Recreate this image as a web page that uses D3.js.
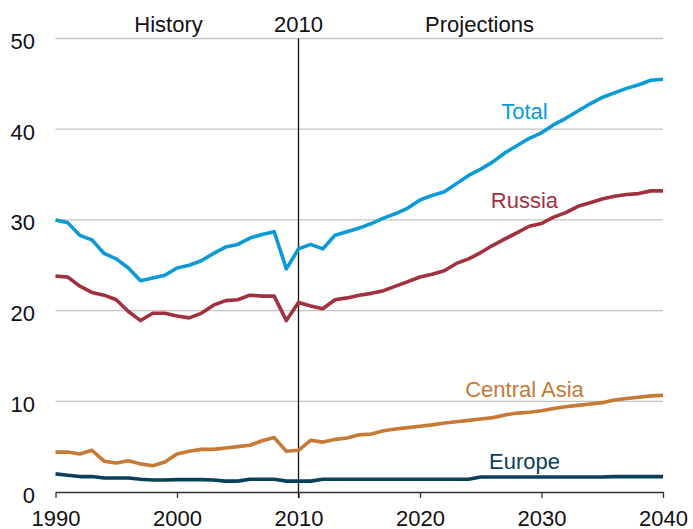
<!DOCTYPE html>
<html>
<head>
<meta charset="utf-8">
<script src="https://cdn.jsdelivr.net/npm/d3@7"></script>
<style>
  html, body { margin: 0; padding: 0; background: #fff; }
  svg { display: block; font-family: "Liberation Sans", Arial, sans-serif; }
</style>
</head>
<body>
<svg id="chart" width="693" height="529"></svg>
<script>
// Years covered by the chart (history 1990-2010, projections 2011-2040)
const years = [
  1990, 1991, 1992, 1993, 1994, 1995, 1996, 1997, 1998, 1999,
  2000, 2001, 2002, 2003, 2004, 2005, 2006, 2007, 2008, 2009,
  2010, 2011, 2012, 2013, 2014, 2015, 2016, 2017, 2018, 2019,
  2020, 2021, 2022, 2023, 2024, 2025, 2026, 2027, 2028, 2029,
  2030, 2031, 2032, 2033, 2034, 2035, 2036, 2037, 2038, 2039, 2040
];

const total = [
  30.0, 29.7, 28.3, 27.8, 26.3, 25.7, 24.7, 23.3, 23.6, 23.9,
  24.7, 25.0, 25.5, 26.3, 27.0, 27.3, 28.0, 28.4, 28.7, 24.6,
  26.8, 27.3, 26.8, 28.3, 28.7, 29.1, 29.6, 30.2, 30.7, 31.3,
  32.2, 32.7, 33.1, 34.0, 34.9, 35.6, 36.4, 37.4, 38.2, 39.0,
  39.6, 40.5, 41.2, 42.0, 42.8, 43.5, 44.0, 44.5, 44.9, 45.4, 45.5
];

const russia = [
  23.8, 23.7, 22.7, 22.0, 21.7, 21.2, 19.9, 18.9, 19.7, 19.7,
  19.4, 19.2, 19.7, 20.6, 21.1, 21.2, 21.7, 21.6, 21.6, 18.9,
  20.9, 20.5, 20.2, 21.2, 21.4, 21.7, 21.9, 22.2, 22.7, 23.2,
  23.7, 24.0, 24.4, 25.2, 25.7, 26.4, 27.2, 27.9, 28.6, 29.3,
  29.6, 30.3, 30.8, 31.5, 31.9, 32.3, 32.6, 32.8, 32.9, 33.2, 33.2
];

const centralAsia = [
  4.4, 4.4, 4.2, 4.6, 3.4, 3.2, 3.45, 3.1, 2.9, 3.3,
  4.2, 4.5, 4.7, 4.7, 4.85, 5.0, 5.15, 5.65, 6.0, 4.5,
  4.6, 5.7, 5.5, 5.8, 5.95, 6.3, 6.4, 6.75, 6.95, 7.1,
  7.25, 7.4, 7.6, 7.75, 7.9, 8.05, 8.2, 8.5, 8.7, 8.8,
  8.95, 9.2, 9.4, 9.55, 9.7, 9.85, 10.15, 10.3, 10.45, 10.6, 10.65
];

const europe = [
  2.0, 1.85, 1.7, 1.7, 1.55, 1.55, 1.55, 1.4, 1.33, 1.33,
  1.36, 1.36, 1.36, 1.33, 1.2, 1.2, 1.4, 1.4, 1.4, 1.2,
  1.2, 1.2, 1.4, 1.4, 1.4, 1.4, 1.4, 1.4, 1.4, 1.4,
  1.4, 1.4, 1.4, 1.4, 1.4, 1.65, 1.65, 1.65, 1.65, 1.65,
  1.65, 1.65, 1.65, 1.65, 1.65, 1.65, 1.7, 1.7, 1.7, 1.7, 1.7
];

const seriesNames = ["Total", "Russia", "Central Asia", "Europe"];
const seriesColors = ["#0a9ad6", "#a2313f", "#c67a35", "#0b405c"];
const seriesValues = [total, russia, centralAsia, europe];

const yTicks = [0, 10, 20, 30, 40, 50];
const xTicks = [1990, 2000, 2010, 2020, 2030, 2040];
const dividerYear = 2010;
const periodLabels = ["History", "2010", "Projections"];
const periodLabelYears = [1999.3, 2010, 2024.9];
// Inline series label anchors: shared year, one value per series
const labelYear = 2028.6;
const labelValues = [41.1, 31.3, 10.5, 2.5];

const svg = d3.select("#chart");
const x = d3.scaleLinear().domain([1990, 2040]).range([55.5, 663]);
const y = d3.scaleLinear().domain([0, 50]).range([492, 38.5]);

// Horizontal gridlines (not at zero, where the axis sits)
svg.append("g")
  .selectAll("line")
  .data(yTicks.filter(d => d > 0))
  .join("line")
  .attr("x1", x(1990))
  .attr("x2", x(2040))
  .attr("y1", d => y(d))
  .attr("y2", d => y(d))
  .attr("stroke", "#c3c3c3")
  .attr("stroke-width", 1.3);

// Y tick labels
svg.append("g")
  .selectAll("text")
  .data(yTicks)
  .join("text")
  .attr("x", 35)
  .attr("y", d => y(d) + 10.5)
  .attr("text-anchor", "end")
  .attr("font-size", 22)
  .attr("fill", "#111")
  .text(d => d);

// X axis
const xAxis = d3.axisBottom(x)
  .tickValues(xTicks)
  .tickFormat(d3.format("d"))
  .tickSize(6)
  .tickSizeOuter(0)
  .tickPadding(12.5);
const gx = svg.append("g")
  .attr("transform", `translate(0,${y(0)})`)
  .call(xAxis);
gx.select(".domain").attr("stroke", "#333").attr("stroke-width", 1.3);
gx.selectAll(".tick line").attr("stroke", "#333").attr("stroke-width", 1.3);
gx.selectAll(".tick text")
  .attr("font-size", 22)
  .attr("font-family", "'Liberation Sans', Arial, sans-serif")
  .attr("fill", "#111");

// Divider between history and projections
svg.append("line")
  .attr("x1", x(dividerYear))
  .attr("x2", x(dividerYear))
  .attr("y1", y(50))
  .attr("y2", y(0) + 6)
  .attr("stroke", "#111")
  .attr("stroke-width", 1.3);

// Period labels above the plot
svg.append("g")
  .selectAll("text")
  .data(periodLabels)
  .join("text")
  .attr("x", (d, i) => x(periodLabelYears[i]))
  .attr("y", 32)
  .attr("text-anchor", "middle")
  .attr("font-size", 22)
  .attr("fill", "#111")
  .text(d => d);

// Series lines
const line = d3.line()
  .x((d, i) => x(years[i]))
  .y(d => y(d));

svg.append("g")
  .selectAll("path")
  .data(seriesValues)
  .join("path")
  .attr("d", d => line(d))
  .attr("fill", "none")
  .attr("stroke", (d, i) => seriesColors[i])
  .attr("stroke-width", 3.6)
  .attr("stroke-linejoin", "round");

// Inline series labels
svg.append("g")
  .selectAll("text")
  .data(seriesNames)
  .join("text")
  .attr("x", x(labelYear))
  .attr("y", (d, i) => y(labelValues[i]))
  .attr("text-anchor", "middle")
  .attr("font-size", 22)
  .attr("fill", (d, i) => seriesColors[i])
  .text(d => d);
</script>
</body>
</html>
